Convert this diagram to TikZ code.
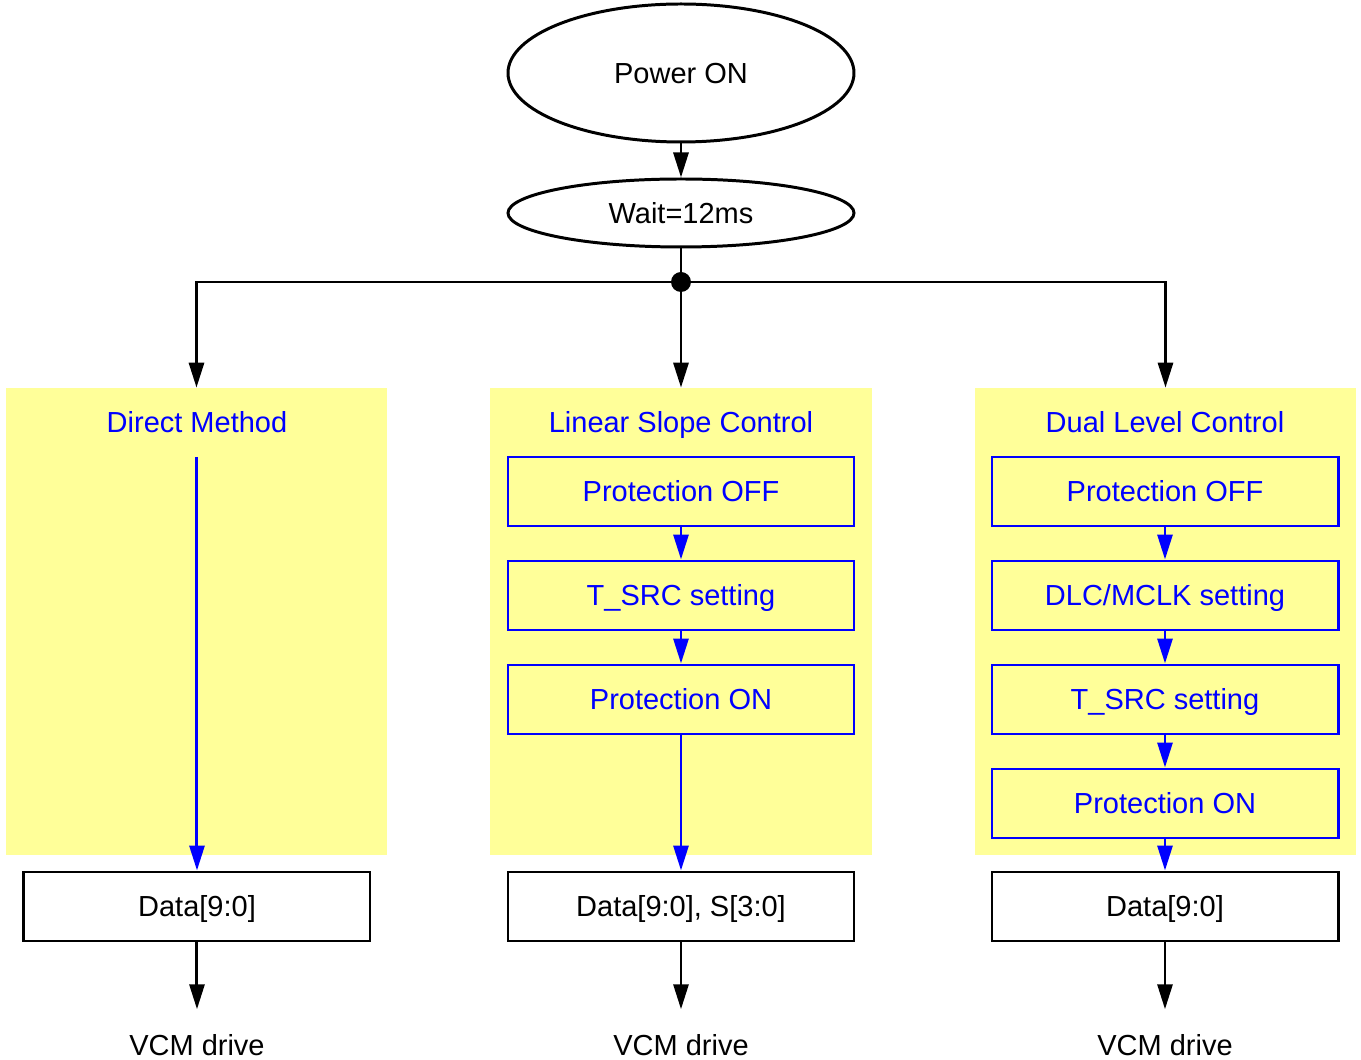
\documentclass[tikz,border=0pt]{standalone}
\usepackage{fontspec}
\setmainfont{Liberation Sans}
\usetikzlibrary{shapes.geometric,arrows.meta}
\definecolor{panelYellow}{RGB}{255,255,153}
\definecolor{flowBlue}{RGB}{0,0,255}

\begin{document}
\begin{tikzpicture}[
    font=\fontsize{16.5}{19}\selectfont,
    txt/.style={text height=13.6pt, text depth=1.8pt},
    oval/.style={ellipse, draw, txt, line width=1.7pt, minimum width=6.92cm, inner sep=0pt},
    panel/.style={rectangle, fill=panelYellow, minimum width=7.62cm, minimum height=9.34cm},
    title/.style={txt, text=flowBlue},
    stepbox/.style={rectangle, draw=flowBlue, txt, line width=1.7pt, text=flowBlue, minimum width=6.92cm, minimum height=1.38cm},
    databox/.style={rectangle, draw, txt, line width=1.7pt, minimum width=6.92cm, minimum height=1.38cm},
    arrow/.style={-{Triangle[length=0.5cm,width=0.3cm]}, line width=1.7pt},
    bluearrow/.style={arrow, flowBlue}
]
\useasboundingbox (-13.62,1.46) rectangle (13.6,-19.74);

\node[oval, minimum height=2.76cm] (power) at (0,0) {Power ON};
\node[oval, minimum height=1.36cm] (wait) at (0,-2.8) {Wait=12ms};
\fill (0,-4.18) circle (0.2) coordinate (junc);

% the three methods
\node[panel] (dpanel) at (-9.69,-10.97) {};
\node[panel] (lpanel) at (0,-10.97) {};
\node[panel] (rpanel) at (9.69,-10.97) {};

\node[title] (dtitle) at (-9.68,-6.98) {Direct Method};
\node[title] (ltitle) at (0,-6.98) {Linear Slope Control};
\node[title] (rtitle) at (9.68,-6.98) {Dual Level Control};
\coordinate (dstart) at (-9.68,-7.68);

\node[stepbox] (loff) at (0,-8.37) {Protection OFF};
\node[stepbox] (lsrc) at (0,-10.45) {T\_SRC setting};
\node[stepbox] (lon) at (0,-12.53) {Protection ON};

\node[stepbox] (roff) at (9.68,-8.37) {Protection OFF};
\node[stepbox] (rdlc) at (9.68,-10.45) {DLC/MCLK setting};
\node[stepbox] (rsrc) at (9.68,-12.53) {T\_SRC setting};
\node[stepbox] (ron) at (9.68,-14.61) {Protection ON};

\node[databox] (ddata) at (-9.68,-16.67) {Data[9:0]};
\node[databox] (ldata) at (0,-16.67) {Data[9:0], S[3:0]};
\node[databox] (rdata) at (9.68,-16.67) {Data[9:0]};

\node[txt] (dvcm) at (-9.68,-19.44) {VCM drive};
\node[txt] (lvcm) at (0,-19.44) {VCM drive};
\node[txt] (rvcm) at (9.68,-19.44) {VCM drive};

\draw[arrow] (power) -- (wait);
\draw[line width=1.7pt] (wait) -- (junc);
\draw[arrow] (junc) -| (dpanel.north);
\draw[arrow] (junc) -- (lpanel.north);
\draw[arrow] (junc) -| (rpanel.north);

\draw[bluearrow] (dstart) -- (ddata);
\draw[bluearrow] (loff) -- (lsrc);
\draw[bluearrow] (lsrc) -- (lon);
\draw[bluearrow] (lon) -- (ldata);
\draw[bluearrow] (roff) -- (rdlc);
\draw[bluearrow] (rdlc) -- (rsrc);
\draw[bluearrow] (rsrc) -- (ron);
\draw[bluearrow] (ron) -- (rdata);

\draw[arrow, shorten >=0.32cm] (ddata) -- (dvcm.north);
\draw[arrow, shorten >=0.32cm] (ldata) -- (lvcm.north);
\draw[arrow, shorten >=0.32cm] (rdata) -- (rvcm.north);
\end{tikzpicture}
\end{document}
